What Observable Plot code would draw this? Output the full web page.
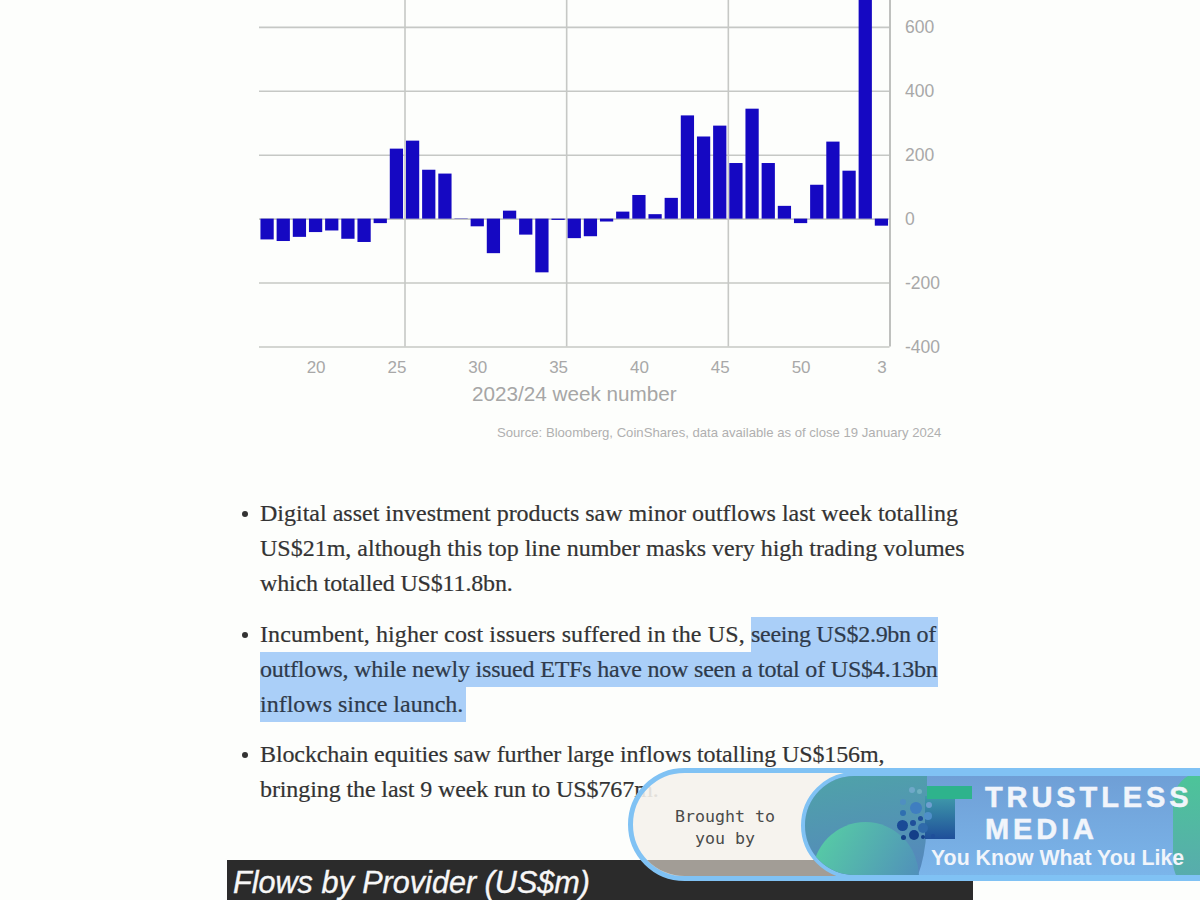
<!DOCTYPE html>
<html><head><meta charset="utf-8">
<script src="https://cdn.jsdelivr.net/npm/d3@7"></script>
<script src="https://cdn.jsdelivr.net/npm/@observablehq/plot@0.6"></script>
<style>
html,body{margin:0;padding:0;background:#fdfefc;width:1200px;height:900px;overflow:hidden;}
body{position:relative;font-family:"Liberation Serif",serif;color:#2b2b2b;}
#chart{position:absolute;left:0;top:0;}
.abs{position:absolute;white-space:nowrap;}
#axisLabel{left:472px;top:382px;font:20.7px "Liberation Sans",sans-serif;color:#a6a6a6;}
#source{left:497px;top:425px;font:13.13px "Liberation Sans",sans-serif;color:#b0b0b0;}
.line{position:absolute;left:260px;font-size:24px;line-height:35px;height:35px;white-space:nowrap;color:#333;-webkit-text-stroke:.2px #333;}
.bullet{position:absolute;left:242px;width:6px;height:6px;border-radius:50%;background:#333;}
mark{background:#aacff8;color:#2d3b4e;display:inline-block;height:35px;}
#head{left:227px;top:860px;width:746px;height:40px;background:#2b2b2b;color:#f7f7f7;font:italic 30.6px "Liberation Sans",sans-serif;line-height:44px;text-indent:6px;-webkit-text-stroke:.35px #f7f7f7;}
#ad{left:628px;top:768px;width:720px;height:113px;border-radius:57px;background:rgba(245,242,236,.9);border:5px solid #80c2f4;box-sizing:border-box;overflow:hidden;}
#ad .foot{position:absolute;left:0;top:87px;width:220px;height:20px;background:#a29d96;}
#by{position:absolute;left:32px;top:33px;width:120px;text-align:center;font:16.6px/22px "DejaVu Sans Mono",monospace;color:#4a4a4a;}
#pill{position:absolute;left:168px;top:-1px;width:560px;height:107px;border-radius:57px 0 0 57px;border:4px solid #80c2f4;box-sizing:border-box;
background:linear-gradient(180deg,#6f9fd6,#7bb5ea);overflow:hidden;}
#g1{position:absolute;left:0;top:0;width:122px;height:110px;border-bottom-right-radius:20px 70px;background:linear-gradient(170deg,#4fa3a8,#5683c0);}
#g2{position:absolute;left:7px;top:46px;width:107px;height:110px;border-radius:50%;background:linear-gradient(120deg,#57d3a2,#4f80c0);}
#g3{position:absolute;left:122px;top:10px;width:45px;height:13px;background:#2eb38c;}
#g4{position:absolute;left:120px;top:20px;width:30px;height:43px;background:linear-gradient(180deg,#3f9aaa,#1f4f9a);}
#g5{position:absolute;left:368px;top:-4px;width:60px;height:120px;border-radius:50% 0 0 50% / 25%;background:linear-gradient(180deg,#4cc598,#5aa8b0);}
#t1{position:absolute;left:180px;top:5px;font:bold 29px/32px "Liberation Sans",sans-serif;letter-spacing:3.9px;color:#f1f5fb;-webkit-text-stroke:.5px #f1f5fb;}
#t2{position:absolute;left:126px;top:70px;font:bold 21.3px/24px "Liberation Sans",sans-serif;color:#f1f5fb;}
.dot{position:absolute;border-radius:50%;}
</style></head><body>
<div id="chart"></div>
<div class="abs" id="axisLabel">2023/24 week number</div>
<div class="abs" id="source">Source: Bloomberg, CoinShares, data available as of close 19 January 2024</div>

<div class="bullet" style="top:511px"></div>
<div class="line" style="top:496px">Digital asset investment products saw minor outflows last week totalling</div>
<div class="line" style="top:531px">US$21m, although this top line number masks very high trading volumes</div>
<div class="line" style="top:566px;letter-spacing:-.15px">which totalled US$11.8bn.</div>

<div class="bullet" style="top:632px"></div>
<div class="line" style="top:617px"><span style="display:inline-block;width:491px;letter-spacing:.12px">Incumbent, higher cost issuers suffered in the US,</span><mark style="width:187px;letter-spacing:-.28px">seeing US$2.9bn of</mark></div>
<div class="line" style="top:652px"><mark style="width:678px;letter-spacing:-.2px">outflows, while newly issued ETFs have now seen a total of US$4.13bn</mark></div>
<div class="line" style="top:687px"><mark style="width:206px">inflows since launch.</mark></div>

<div class="bullet" style="top:752px"></div>
<div class="line" style="top:737px;letter-spacing:-.11px">Blockchain equities saw further large inflows totalling US$156m,</div>
<div class="line" style="top:772px;letter-spacing:-.1px">bringing the last 9 week run to US$767m.</div>

<div class="abs" id="head">Flows by Provider (US$m)</div>
<div class="abs" id="ad">
  <div class="foot"></div>
  <div id="by">Brought to<br>you by</div>
  <div id="pill"><div id="g1"></div><div id="g2"></div><div id="g4"></div><div id="g3"></div><div id="g5"></div>
    <div id="t1">TRUSTLESS<br>MEDIA</div><div id="t2">You Know What You Like</div></div>
</div>
<script>
const weeks = [17,18,19,20,21,22,23,24,25,26,27,28,29,30,31,32,33,34,35,36,37,38,39,40,41,42,43,44,45,46,47,48,49,50,51,52,1,2,3];
const flows = [-65,-70,-57,-42,-37,-63,-73,-14,219,244,153,141,1,-24,-108,25,-50,-168,-4,-61,-55,-9,22,74,14,65,323,257,291,174,344,174,40,-14,106,241,150,708,-22];
const yTicks = [-400,-200,0,200,400,600];
const xLabels = [20,25,30,35,40,45,50,3];
const vGrid = [25,35,45];
const rows = weeks.map((w,i)=>({week:w,flow:flows[i]}));
const GRAY="#c6c8c5", TXT="#a8a8a8";
const halfStep = 630.5/39/2;
const plot = Plot.plot({
  width:1200, height:410,
  marginTop:0, marginLeft:259, marginRight:310.5, marginBottom:63.5,
  style:{background:"transparent",overflow:"hidden"},
  x:{type:"band",domain:weeks,paddingInner:0.18,paddingOuter:0.09,round:false,label:null},
  y:{domain:[-400,684],label:null},
  marks:[
    Plot.ruleY(yTicks,{stroke:GRAY,strokeWidth:1.6}),
    Plot.ruleX(vGrid,{x:d=>d,dx:halfStep,stroke:GRAY,strokeWidth:1.6}),
    Plot.barY(rows,{x:"week",y:"flow",fill:"#1508c2",clip:true}),
    Plot.ruleX([3],{dx:halfStep,stroke:"#b8bab7",strokeWidth:1.8}),
    Plot.axisY(yTicks,{anchor:"right",label:null,tickSize:0,tickPadding:15,fontSize:17.5,fill:TXT,textAnchor:"start",fontFamily:"Liberation Sans",tickFormat:d=>String(d)}),
    Plot.axisX(xLabels,{label:null,tickSize:0,tickPadding:14,fontSize:17,fill:TXT,fontFamily:"Liberation Sans"})
  ]
});
document.getElementById("chart").append(plot);
// decorative logo dots, page coordinates relative to the pill box
const logoDots=[[65,45,3,"#6fa8c8"],[88,48,2.5,"#6fb0c0"],[40,80,3,"#4f8fc0"],[78,100,6,"#3f7ec0"],[40,115,3,"#2f6fb0"],[118,90,3,"#6f9fd0"],[115,122,4,"#4f8fc8"],[90,130,2.5,"#1f4f9a"],[38,150,5.5,"#1a4a96"],[68,145,3,"#1f4f9a"],[100,160,5,"#2f6aaa"],[72,180,5,"#143f88"],[40,187,2.5,"#143f88"],[100,185,2,"#143f88"],[128,183,2,"#1f4f9a"]];
const pill=document.getElementById("pill");
const px=628+5+168+4, py=768+5-1+4;
logoDots.forEach(([zx,zy,r,c])=>{
  const d=document.createElement("div");d.className="dot";
  d.style.cssText=`left:${890+zx/3-r-px}px;top:${775+zy/3-r-py}px;width:${2*r}px;height:${2*r}px;background:${c}`;
  pill.insertBefore(d,document.getElementById("t1"));
});
</script>
</body></html>
